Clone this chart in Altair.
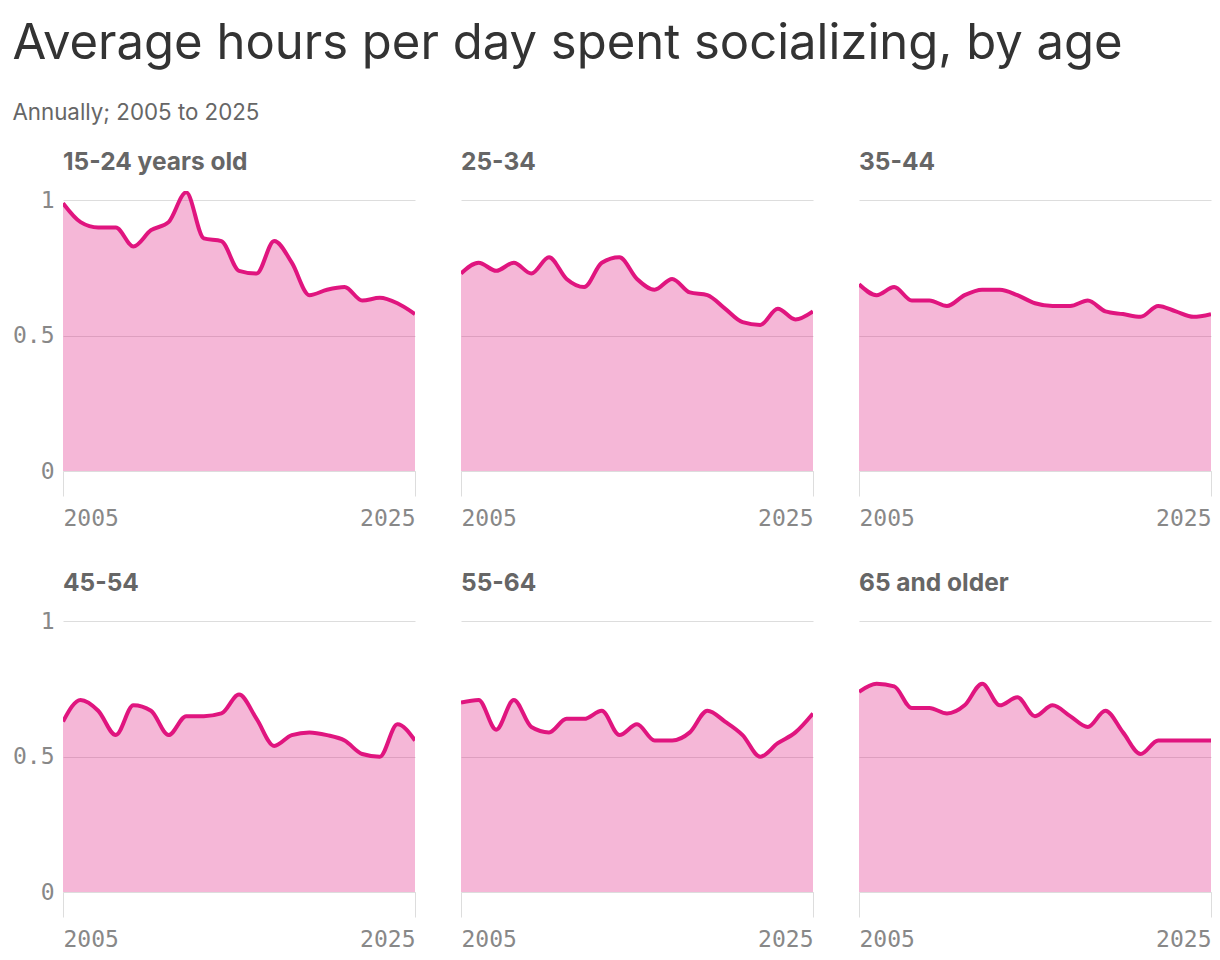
import altair as alt
import pandas as pd

years = list(range(2005, 2026))
groups = ["15-24 years old", "25-34", "35-44", "45-54", "55-64", "65 and older"]

v_15_24 = [0.99, 0.92, 0.90, 0.90, 0.83, 0.89, 0.92, 1.03, 0.86, 0.85, 0.74,
           0.73, 0.85, 0.77, 0.65, 0.67, 0.68, 0.63, 0.64, 0.62, 0.58]
v_25_34 = [0.73, 0.77, 0.74, 0.77, 0.73, 0.79, 0.71, 0.68, 0.77, 0.79, 0.71,
           0.67, 0.71, 0.66, 0.65, 0.60, 0.55, 0.54, 0.60, 0.56, 0.59]
v_35_44 = [0.69, 0.65, 0.68, 0.63, 0.63, 0.61, 0.65, 0.67, 0.67, 0.65, 0.62,
           0.61, 0.61, 0.63, 0.59, 0.58, 0.57, 0.61, 0.59, 0.57, 0.58]
v_45_54 = [0.63, 0.71, 0.67, 0.58, 0.69, 0.67, 0.58, 0.65, 0.65, 0.66, 0.73,
           0.64, 0.54, 0.58, 0.59, 0.58, 0.56, 0.51, 0.50, 0.62, 0.56]
v_55_64 = [0.70, 0.71, 0.60, 0.71, 0.61, 0.59, 0.64, 0.64, 0.67, 0.58, 0.62,
           0.56, 0.56, 0.59, 0.67, 0.63, 0.58, 0.50, 0.55, 0.59, 0.66]
v_65_up = [0.74, 0.77, 0.76, 0.68, 0.68, 0.66, 0.69, 0.77, 0.69, 0.72, 0.65,
           0.69, 0.65, 0.61, 0.67, 0.59, 0.51, 0.56, 0.56, 0.56, 0.56]

series = [v_15_24, v_25_34, v_35_44, v_45_54, v_55_64, v_65_up]
rows = []
for g, vals in zip(groups, series):
    for yr, v in zip(years, vals):
        rows.append({"group": g, "year": yr, "hours": v})
df = pd.DataFrame(rows)

PINK = "#E0157F"
MONO = "DejaVu Sans Mono"
SANS = "Inter"

base = alt.Chart().encode(
    x=alt.X("year:Q",
            scale=alt.Scale(domain=[2005, 2025], nice=False, zero=False),
            axis=alt.Axis(values=[2005, 2025], format="d", title=None, grid=False,
                          labelFlush=True, tickSize=25, tickColor="#dddddd",
                          domainColor="#dddddd", labelFont=MONO, labelFontSize=23,
                          labelColor="#888888", labelPadding=11)),
    y=alt.Y("hours:Q",
            scale=alt.Scale(domain=[0, 1.035], nice=False),
            axis=alt.Axis(values=[0, 0.5, 1], format="~g", title=None, domain=False,
                          ticks=False, labelPadding=8, gridColor="#dddddd",
                          labelFont=MONO, labelFontSize=23, labelColor="#888888")),
)
area = base.mark_area(interpolate="monotone", color=PINK, opacity=0.31, clip=True)
line = base.mark_line(interpolate="monotone", color=PINK, strokeWidth=4,
                      strokeJoin="round", clip=True)

chart = alt.layer(area, line, data=df).properties(width=352, height=280).facet(
    facet=alt.Facet("group:N", sort=groups,
                    header=alt.Header(title=None, labelAnchor="start", labelFontSize=24.5,
                                      labelFontWeight="bold", labelColor="#666666",
                                      labelFont=SANS, labelPadding=16)),
    columns=3,
    spacing={"column": 44, "row": 40},
).resolve_axis(x="independent").properties(
    padding={"left": 4, "right": 0, "top": 12, "bottom": 0},
    title=alt.TitleParams(
        text="Average hours per day spent socializing, by age",
        subtitle="Annually; 2005 to 2025",
        anchor="start", font=SANS, fontSize=49, fontWeight="normal", color="#333333",
        subtitleFont=SANS, subtitleFontSize=22.3, subtitleColor="#666666",
        subtitlePadding=33, offset=25,
    )
).configure_view(stroke=None)

chart.save("out.html", embed_options={"renderer": "svg", "actions": False})
